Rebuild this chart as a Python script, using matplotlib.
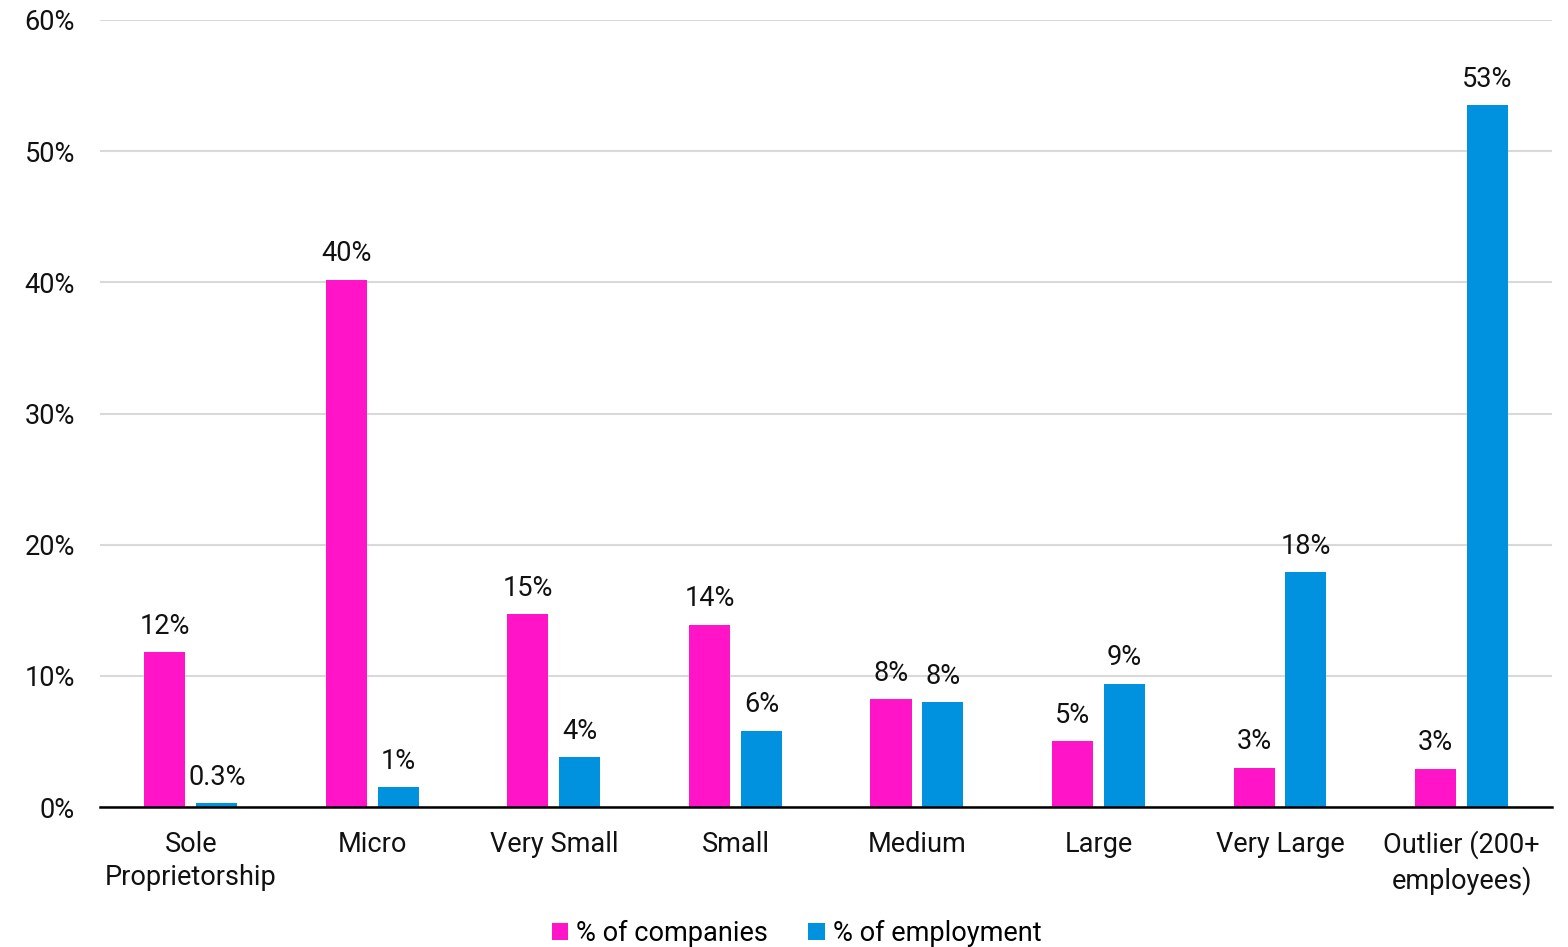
import numpy as np
import matplotlib
matplotlib.use('Agg')
import matplotlib.pyplot as plt
from matplotlib.ticker import FuncFormatter

# dados
categorias = ['Sole\nProprietorship', 'Micro', 'Very Small', 'Small', 'Medium',
              'Large', 'Very Large', 'Outlier (200+\nemployees)']
pct_empresas = [11.8, 40.2, 14.7, 13.9, 8.2, 5.0, 3.0, 2.9]
pct_emprego = [0.3, 1.5, 3.8, 5.8, 8.0, 9.4, 17.9, 53.5]
rotulos_empresas = ['12%', '40%', '15%', '14%', '8%', '5%', '3%', '3%']
rotulos_emprego = ['0.3%', '1%', '4%', '6%', '8%', '9%', '18%', '53%']

plt.rcParams['font.family'] = ['Roboto', 'DejaVu Sans']
tam = 19.5

cor_rosa = '#FF14C8'
cor_azul = '#0091DF'

fig = plt.figure(figsize=(15.68, 9.47), dpi=100)
ax = fig.add_axes([0.0638, 0.1478, 0.9262, 0.8311])

x = np.arange(len(categorias))
largura = 0.226
desloc = 0.143

b1 = ax.bar(x - desloc, pct_empresas, largura, color=cor_rosa, label='% of companies', zorder=3)
b2 = ax.bar(x + desloc, pct_emprego, largura, color=cor_azul, label='% of employment', zorder=3)

for barras, rotulos in [(b1, rotulos_empresas), (b2, rotulos_emprego)]:
    for b, r in zip(barras, rotulos):
        ax.annotate(r, (b.get_x() + b.get_width() / 2, b.get_height()),
                    xytext=(0, 9), textcoords='offset points',
                    ha='center', va='bottom', fontsize=tam, color='#111111')

ax.set_ylim(0, 60)
ax.set_xlim(-0.5, len(categorias) - 0.5)
ax.set_yticks(np.arange(0, 61, 10))
ax.yaxis.set_major_formatter(FuncFormatter(lambda v, p: f'{v:.0f}%'))
ax.set_xticks(x)
ax.set_xticklabels(categorias, linespacing=1.3)
ax.tick_params(axis='both', length=0, labelsize=tam, colors='#111111')
ax.tick_params(axis='y', pad=18)
ax.tick_params(axis='x', pad=17)

ax.grid(axis='y', color='#d9d9d9', linewidth=1.5, zorder=0)
for lado in ['top', 'right', 'left']:
    ax.spines[lado].set_visible(False)
ax.spines['bottom'].set_color('black')
ax.spines['bottom'].set_linewidth(1.8)
ax.spines['bottom'].set_zorder(4)

fig.legend(handles=[b1, b2], loc='lower center', bbox_to_anchor=(0.508, -0.026),
           ncol=2, frameon=False, fontsize=tam, handlelength=0.6, handleheight=0.6,
           handletextpad=0.3, columnspacing=1.5)

plt.savefig('out.png', dpi=100)
plt.close()
